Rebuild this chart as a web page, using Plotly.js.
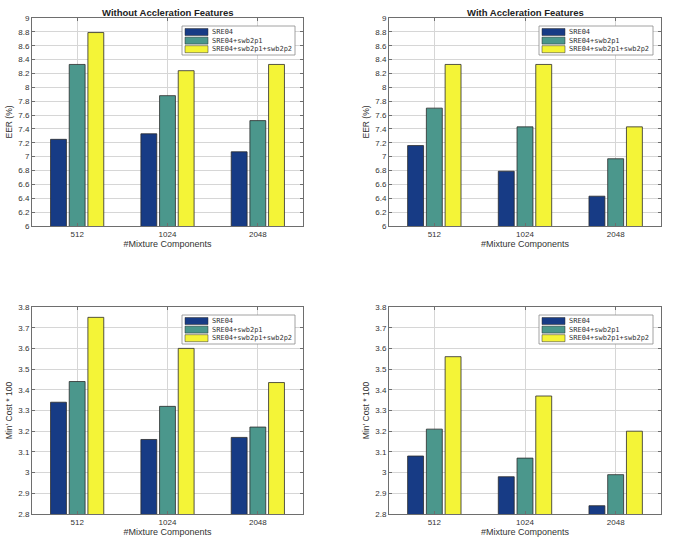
<!DOCTYPE html>
<html>
<head>
<meta charset="utf-8">
<script src="https://cdn.plot.ly/plotly-3.0.1.min.js"></script>
<style>html,body{margin:0;padding:0;background:#fff;}#chart{width:675px;height:553px;}</style>
</head>
<body>
<div id="chart"></div>
<script>
// ---------------- DATA ----------------
const categories = ['512', '1024', '2048'];
const seriesNames = ['SRE04', 'SRE04+swb2p1', 'SRE04+swb2p1+swb2p2'];
const panelTitles = ['Without Accleration Features', 'With Accleration Features', '', ''];
const xAxisTitle = '#Mixture Components';
const yAxisTitles = ['EER (%)', 'EER (%)', "Min' Cost * 100", "Min' Cost * 100"];

// EER (%) without acceleration features
const eerWithout_SRE04 = [7.25, 7.33, 7.07];
const eerWithout_swb2p1 = [8.33, 7.88, 7.52];
const eerWithout_swb2p2 = [8.79, 8.24, 8.33];
// EER (%) with acceleration features
const eerWith_SRE04 = [7.16, 6.79, 6.43];
const eerWith_swb2p1 = [7.70, 7.43, 6.97];
const eerWith_swb2p2 = [8.33, 8.33, 7.43];
// Min cost * 100 without acceleration features
const costWithout_SRE04 = [3.34, 3.16, 3.17];
const costWithout_swb2p1 = [3.44, 3.32, 3.22];
const costWithout_swb2p2 = [3.75, 3.60, 3.435];
// Min cost * 100 with acceleration features
const costWith_SRE04 = [3.08, 2.98, 2.84];
const costWith_swb2p1 = [3.21, 3.07, 2.99];
const costWith_swb2p2 = [3.56, 3.37, 3.20];

const yTickValsEER = [6, 6.2, 6.4, 6.6, 6.8, 7, 7.2, 7.4, 7.6, 7.8, 8, 8.2, 8.4, 8.6, 8.8, 9];
const yTickValsCost = [2.8, 2.9, 3, 3.1, 3.2, 3.3, 3.4, 3.5, 3.6, 3.7, 3.8];

// ---------------- STYLE / LAYOUT ----------------
const seriesColors = ['#173b85', '#4b978c', '#f4f437'];
const panelData = [
  [eerWithout_SRE04, eerWithout_swb2p1, eerWithout_swb2p2],
  [eerWith_SRE04, eerWith_swb2p1, eerWith_swb2p2],
  [costWithout_SRE04, costWithout_swb2p1, costWithout_swb2p2],
  [costWith_SRE04, costWith_swb2p1, costWith_swb2p2]
];
const panelRanges = [[6, 9], [6, 9], [2.8, 3.8], [2.8, 3.8]];
const panelTicks = [yTickValsEER, yTickValsEER, yTickValsCost, yTickValsCost];

const W = 675, H = 553;
// plot-area pixel boxes
const boxes = [
  {l: 32, r: 303, t: 18, b: 226},
  {l: 389, r: 661, t: 18, b: 226},
  {l: 32, r: 303, t: 307, b: 514},
  {l: 389, r: 661, t: 307, b: 514}
];
const px = x => x / W;
const py = y => 1 - y / H;

const FONT = 'Liberation Sans, Arial, sans-serif';
const traces = [];
const layout = {
  width: W, height: H,
  margin: {l: 0, r: 0, t: 0, b: 0},
  paper_bgcolor: '#ffffff',
  plot_bgcolor: '#ffffff',
  showlegend: false,
  barmode: 'group',
  bargap: 0.38,
  bargroupgap: 0.15,
  font: {family: FONT, size: 8, color: '#333'},
  shapes: [],
  annotations: []
};

boxes.forEach((bx, i) => {
  const n = i === 0 ? '' : String(i + 1);
  seriesNames.forEach((name, s) => {
    traces.push({
      type: 'bar',
      name: name,
      x: categories,
      y: panelData[i][s],
      xaxis: 'x' + n,
      yaxis: 'y' + n,
      marker: {color: seriesColors[s], line: {color: '#2b2b2b', width: 0.8}},
      hoverinfo: 'x+y+name'
    });
  });
  layout['xaxis' + n] = {
    domain: [px(bx.l), px(bx.r)],
    anchor: 'y' + n,
    type: 'category',
    range: [-0.5, 2.5],
    showgrid: true, gridcolor: '#d6d6d6', gridwidth: 1,
    showline: true, linecolor: '#6e6e6e', linewidth: 1, mirror: 'ticks',
    ticks: 'inside', ticklen: 3, tickcolor: '#6e6e6e',
    tickfont: {family: FONT, size: 8, color: '#333'},
    title: {text: xAxisTitle, font: {family: FONT, size: 9, color: '#333'}, standoff: 3},
    automargin: false, fixedrange: true
  };
  layout['yaxis' + n] = {
    domain: [py(bx.b), py(bx.t)],
    anchor: 'x' + n,
    range: panelRanges[i],
    tickvals: panelTicks[i],
    showgrid: true, gridcolor: '#d6d6d6', gridwidth: 1,
    zeroline: false,
    showline: true, linecolor: '#6e6e6e', linewidth: 1, mirror: 'ticks',
    ticks: 'inside', ticklen: 3, tickcolor: '#6e6e6e',
    tickfont: {family: FONT, size: 8, color: '#333'},
    title: {text: yAxisTitles[i], font: {family: FONT, size: 8.5, color: '#333'}, standoff: 4},
    automargin: false, fixedrange: true
  };
  if (panelTitles[i]) {
    layout.annotations.push({
      xref: 'paper', yref: 'paper',
      x: px((bx.l + bx.r) / 2), y: py(bx.t - 6),
      xanchor: 'center', yanchor: 'middle', showarrow: false,
      text: '<b>' + panelTitles[i] + '</b>',
      font: {family: FONT, size: 9.5, color: '#222'}
    });
  }
  // compact MATLAB-style legend box
  const lx0 = bx.l + 150, lx1 = bx.r - 8, ly0 = bx.t + 8, ly1 = bx.t + 37;
  layout.shapes.push({
    type: 'rect', xref: 'paper', yref: 'paper',
    x0: px(lx0), x1: px(lx1), y0: py(ly1), y1: py(ly0),
    fillcolor: '#ffffff', line: {color: '#8a8a8a', width: 0.8}, layer: 'above'
  });
  seriesNames.forEach((name, s) => {
    const cy = ly0 + 6 + s * 8.6;
    layout.shapes.push({
      type: 'rect', xref: 'paper', yref: 'paper',
      x0: px(lx0 + 3), x1: px(lx0 + 26), y0: py(cy + 3.5), y1: py(cy - 3.5),
      fillcolor: seriesColors[s], line: {color: '#2b2b2b', width: 0.5}, layer: 'above'
    });
    layout.annotations.push({
      xref: 'paper', yref: 'paper',
      x: px(lx0 + 28), y: py(cy),
      xanchor: 'left', yanchor: 'middle', showarrow: false,
      text: name,
      font: {family: 'DejaVu Sans Mono, monospace', size: 7, color: '#333'}
    });
  });
});

Plotly.newPlot('chart', traces, layout, {displayModeBar: false, staticPlot: true});
</script>
</body>
</html>
